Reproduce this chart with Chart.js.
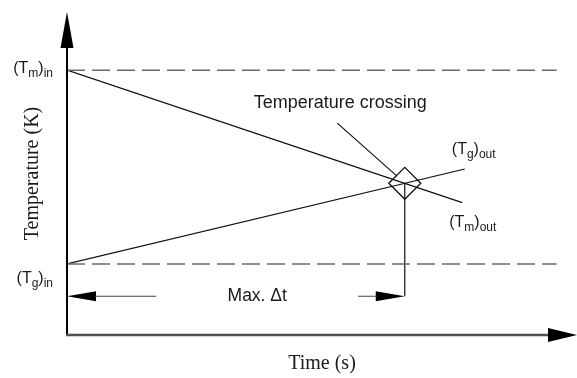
<!DOCTYPE html>
<html>
<head>
<meta charset="utf-8">
<script src="https://cdn.jsdelivr.net/npm/chart.js@4.4.1/dist/chart.umd.min.js"></script>
<style>
  html, body { margin: 0; padding: 0; background: #fff; }
  canvas { display: block; }
</style>
</head>
<body>
<canvas id="c" width="577" height="378"></canvas>
<script>
// Axis ranges (arbitrary time and temperature units)
const timeRange = [0, 100];
const tempRange = [0, 100];

// Inlet temperatures of the two streams
const tmInlet = 82;   // (Tm)in
const tgInlet = 22;   // (Tg)in

// Temperature profiles: the material stream cools, the gas stream heats up
const tmTime = [0, 77.5];
const tmTemp = [tmInlet, 41];
const tgTime = [0, 78];
const tgTemp = [tgInlet, 51.4];

// Extent of the dashed inlet reference lines
const refLineEnd = 96;

// Leader line from the annotation towards the crossing
const leaderTime = [53, 64.7];
const leaderTemp = [65.6, 49.2];

// Height of the Max. Δt dimension arrow and position of its label
const deltaLevel = 12;
const deltaLabelTime = 37.3;

// Crossing point of the two profiles
const sTm = (tmTemp[1] - tmTemp[0]) / (tmTime[1] - tmTime[0]);
const sTg = (tgTemp[1] - tgTemp[0]) / (tgTime[1] - tgTime[0]);
const crossTime = (tgTemp[0] - tmTemp[0]) / (sTm - sTg);
const crossTemp = tmTemp[0] + sTm * crossTime;

const pts = (xs, ys) => xs.map((x, i) => ({ x, y: ys[i] }));

const INK = '#111';
const DASH = '#6b6b6b';
const SANS = '"Liberation Sans", Arial, sans-serif';
const SERIF = '"Liberation Serif", "Times New Roman", serif';

function lineSet(data, extra) {
  return Object.assign({
    data, showLine: true, borderColor: INK, borderWidth: 1.2,
    pointRadius: 0, pointHoverRadius: 0, fill: false, tension: 0
  }, extra || {});
}

// Text made of normal and subscript pieces, e.g. (T_m)_in
function drawSubText(ctx, parts, x, y, align) {
  const mainFont = '16px ' + SANS, subFont = '12px ' + SANS;
  let w = 0;
  parts.forEach(([t, sub]) => { ctx.font = sub ? subFont : mainFont; w += ctx.measureText(t).width; });
  let cx = align === 'right' ? x - w : x;
  ctx.textAlign = 'left';
  ctx.textBaseline = 'alphabetic';
  parts.forEach(([t, sub]) => {
    ctx.font = sub ? subFont : mainFont;
    ctx.fillText(t, cx, sub ? y + 4 : y);
    cx += ctx.measureText(t).width;
  });
}

function tri(ctx, a, b, c) {
  ctx.beginPath();
  ctx.moveTo(a[0], a[1]); ctx.lineTo(b[0], b[1]); ctx.lineTo(c[0], c[1]);
  ctx.closePath();
  ctx.fill();
}

const annotations = {
  id: 'annotations',
  afterDraw(chart) {
    const { ctx, chartArea: a, scales: { x, y } } = chart;
    ctx.save();

    // y axis with arrowhead
    ctx.strokeStyle = '#000';
    ctx.fillStyle = '#000';
    ctx.lineWidth = 2;
    ctx.beginPath();
    ctx.moveTo(a.left, a.bottom);
    ctx.lineTo(a.left, a.top + 34);
    ctx.stroke();
    tri(ctx, [a.left, a.top], [a.left - 6.5, a.top + 36], [a.left + 6.5, a.top + 36]);

    // x axis with arrowhead
    ctx.strokeStyle = '#505050';
    ctx.lineWidth = 2.5;
    ctx.beginPath();
    ctx.moveTo(a.left - 1, a.bottom);
    ctx.lineTo(a.right - 27, a.bottom);
    ctx.stroke();
    tri(ctx, [a.right, a.bottom], [a.right - 29, a.bottom - 7], [a.right - 29, a.bottom + 7]);

    // Max. Δt dimension arrow
    const dy = y.getPixelForValue(deltaLevel);
    const x0 = x.getPixelForValue(0);
    const x1 = x.getPixelForValue(crossTime);
    const lx = x.getPixelForValue(deltaLabelTime);
    ctx.fillStyle = '#000';
    tri(ctx, [x0, dy], [x0 + 29, dy - 5], [x0 + 29, dy + 5]);
    tri(ctx, [x1, dy], [x1 - 29, dy - 5], [x1 - 29, dy + 5]);
    ctx.strokeStyle = '#444';
    ctx.lineWidth = 1.2;
    ctx.beginPath();
    ctx.moveTo(x0 + 28, dy); ctx.lineTo(lx - 101, dy);
    ctx.moveTo(lx + 101, dy); ctx.lineTo(x1 - 28, dy);
    ctx.stroke();

    ctx.fillStyle = '#1a1a1a';
    ctx.font = '17.5px ' + SANS;
    ctx.textAlign = 'center';
    ctx.textBaseline = 'middle';
    ctx.fillText('Max. Δt', lx, dy);

    // Annotation of the crossing
    const ax = x.getPixelForValue(leaderTime[0]);
    const ay = y.getPixelForValue(leaderTemp[0]);
    ctx.font = '18px ' + SANS;
    ctx.fillText('Temperature crossing', ax + 3, ay - 20);

    // Stream temperature labels
    const ymIn = y.getPixelForValue(tmInlet);
    const ygIn = y.getPixelForValue(tgInlet);
    drawSubText(ctx, [['('], ['T'], ['m', true], [')'], ['in', true]], a.left - 14, ymIn + 3, 'right');
    drawSubText(ctx, [['('], ['T'], ['g', true], [')'], ['in', true]], a.left - 14, ygIn + 19, 'right');
    const gx = x.getPixelForValue(tgTime[1]), gy = y.getPixelForValue(tgTemp[1]);
    drawSubText(ctx, [['('], ['T'], ['g', true], [')'], ['out', true]], gx - 13, gy - 15, 'left');
    const mx = x.getPixelForValue(tmTime[1]), my = y.getPixelForValue(tmTemp[1]);
    drawSubText(ctx, [['('], ['T'], ['m', true], [')'], ['out', true]], mx - 13, my + 24, 'left');

    // Axis titles
    ctx.font = '20px ' + SERIF;
    ctx.textAlign = 'center';
    ctx.textBaseline = 'middle';
    ctx.fillText('Time (s)', (a.left + a.right) / 2, a.bottom + 29);
    ctx.translate(a.left - 34, (a.top + a.bottom) / 2);
    ctx.rotate(-Math.PI / 2);
    ctx.fillText('Temperature (K)', 0, 0);

    ctx.restore();
  }
};

new Chart(document.getElementById('c'), {
  type: 'scatter',
  data: {
    datasets: [
      lineSet(pts([0, refLineEnd], [tmInlet, tmInlet]), { borderColor: DASH, borderWidth: 1.5, borderDash: [18, 7] }),
      lineSet(pts([0, refLineEnd], [tgInlet, tgInlet]), { borderColor: DASH, borderWidth: 1.5, borderDash: [18, 7] }),
      lineSet(pts(tmTime, tmTemp)),
      lineSet(pts(tgTime, tgTemp)),
      lineSet(pts(leaderTime, leaderTemp)),
      lineSet(pts([crossTime, crossTime], [crossTemp, deltaLevel])),
      {
        data: [{ x: crossTime, y: crossTemp }],
        showLine: false,
        pointStyle: 'rectRot',
        pointRadius: 16,
        pointHoverRadius: 16,
        pointBorderWidth: 1.3,
        pointBorderColor: INK,
        pointBackgroundColor: 'rgba(0,0,0,0)'
      }
    ]
  },
  options: {
    responsive: false,
    animation: false,
    devicePixelRatio: 1,
    layout: { autoPadding: false, padding: { left: 67, right: 0, top: 12, bottom: 43 } },
    scales: {
      x: { type: 'linear', min: timeRange[0], max: timeRange[1], display: false },
      y: { type: 'linear', min: tempRange[0], max: tempRange[1], display: false }
    },
    plugins: { legend: { display: false }, tooltip: { enabled: false } },
    events: []
  },
  plugins: [annotations]
});
</script>
</body>
</html>
